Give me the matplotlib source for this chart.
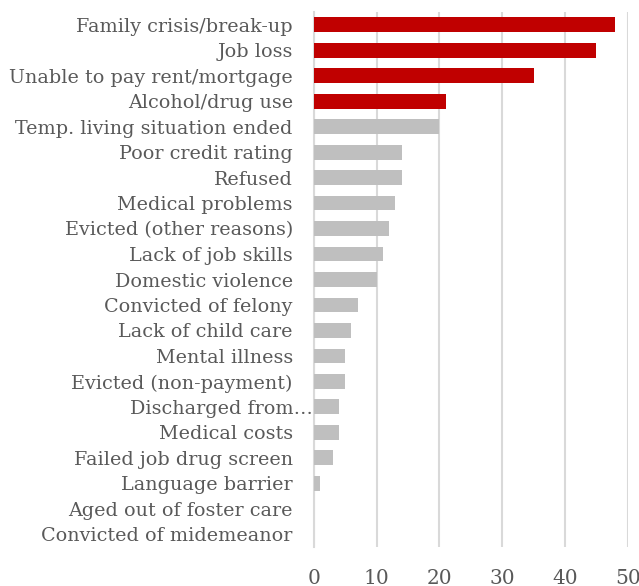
import matplotlib
matplotlib.use("Agg")
import matplotlib.pyplot as plt
import matplotlib.transforms as mtransforms

categories = [
    "Family crisis/break-up", "Job loss", "Unable to pay rent/mortgage",
    "Alcohol/drug use", "Temp. living situation ended", "Poor credit rating",
    "Refused", "Medical problems", "Evicted (other reasons)",
    "Lack of job skills", "Domestic violence", "Convicted of felony",
    "Lack of child care", "Mental illness", "Evicted (non-payment)",
    "Discharged from…", "Medical costs", "Failed job drug screen",
    "Language barrier", "Aged out of foster care", "Convicted of midemeanor",
]
values = [48, 45, 35, 21, 20, 14, 14, 13, 12, 11, 10, 7, 6, 5, 5, 4, 4, 3, 1, 0, 0]
highlight_count = 4
xticks = [0, 10, 20, 30, 40, 50]

RED = "#c00000"
GRAY = "#bfbfbf"
TEXT = "#595959"
GRID = "#d9d9d9"

plt.rcParams["font.family"] = ["DejaVu Serif"]

fig = plt.figure(figsize=(6.39, 5.86), dpi=100)
ax = fig.add_axes([313.7 / 639, 1 - 547 / 586, (627.7 - 313.7) / 639, (547 - 12) / 586])

n = len(categories)
ypos = list(range(n))
colors = [RED if i < highlight_count else GRAY for i in range(n)]
ax.barh(ypos, values, height=0.58, color=colors, zorder=3)

ax.set_xlim(0, 50)
ax.set_ylim(n - 0.5, -0.5)
ax.set_yticks(ypos)
ax.set_yticklabels(categories, fontsize=13.8, color=TEXT)
ax.set_xticks(xticks)
ax.set_xticklabels([str(t) for t in xticks], fontsize=14.5, color=TEXT)

ax.tick_params(axis="y", length=0, pad=15)
ax.tick_params(axis="x", length=0, pad=16)

ax.xaxis.grid(True, color=GRID, linewidth=1.5, zorder=0)
ax.yaxis.grid(False)
for s in ["top", "right", "bottom"]:
    ax.spines[s].set_visible(False)
ax.spines["left"].set_color(GRID)
ax.spines["left"].set_linewidth(1.5)

# truncated label sits closer to axis
lbl = ax.get_yticklabels()[categories.index("Discharged from…")]
lbl.set_transform(lbl.get_transform() + mtransforms.ScaledTranslation(20 / 100, 0, fig.dpi_scale_trans))

fig.savefig("out.png", dpi=100)
